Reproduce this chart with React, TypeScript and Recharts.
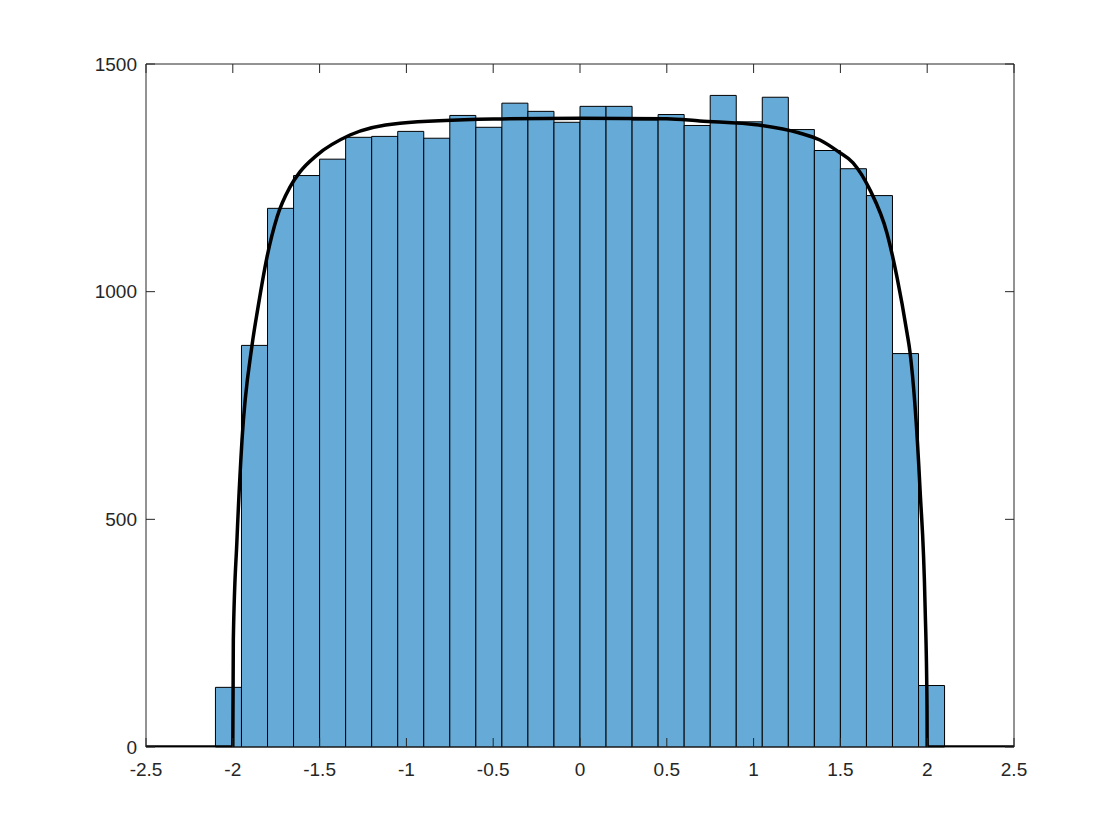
import { ComposedChart, Line, XAxis, YAxis, ReferenceArea } from 'recharts';

// histogram bins (edges) and counts
const binEdges = [
  -2.1, -1.95, -1.8, -1.65, -1.5, -1.35, -1.2, -1.05, -0.9, -0.75, -0.6, -0.45, -0.3, -0.15, 0,
  0.15, 0.3, 0.45, 0.6, 0.75, 0.9, 1.05, 1.2, 1.35, 1.5, 1.65, 1.8, 1.95, 2.1,
];
const binCounts = [
  131, 882, 1183, 1255, 1291, 1339, 1341, 1352, 1337, 1387, 1361, 1414, 1396, 1372,
  1407, 1407, 1377, 1389, 1365, 1431, 1373, 1427, 1356, 1310, 1270, 1211, 864, 135,
];

// fitted density curve
const curveX = [
  -2.5, -2.0, -1.997, -1.976, -1.947, -1.89, -1.855, -1.803, -1.745, -1.67, -1.613, -1.515,
  -1.325, -1.037, -0.5, 0, 0.5, 0.69, 1.03, 1.26, 1.382, 1.49, 1.573, 1.671, 1.768, 1.826,
  1.884, 1.9, 1.959, 1.988, 1.999, 2.0, 2.5,
];
const curveY = [
  0, 0, 235, 455, 674, 880, 965, 1076, 1164, 1230, 1263, 1300, 1344, 1370, 1379, 1381, 1380,
  1375, 1366, 1349, 1333, 1307, 1283, 1223, 1129, 1032, 909, 870, 564, 307, 88, 0, 0,
];

const xTicks = [-2.5, -2, -1.5, -1, -0.5, 0, 0.5, 1, 1.5, 2, 2.5];
const yTicks = [0, 500, 1000, 1500];

const curve = curveX.map((x, i) => ({ x, y: curveY[i] }));
const bins = binCounts.map((count, i) => ({ lo: binEdges[i], hi: binEdges[i + 1], count }));

const W = 1120;
const H = 840;
const PLOT_TOP = 64;
const PLOT_RIGHT = 1014;
const INK = '#262626';
const FONT = '"Liberation Sans", Arial, Helvetica, sans-serif';

function XTick({ x, y, payload }: any) {
  return (
    <g>
      <line x1={x} x2={x} y1={y} y2={y - 9} stroke={INK} strokeWidth={1} />
      <line x1={x} x2={x} y1={PLOT_TOP} y2={PLOT_TOP + 9} stroke={INK} strokeWidth={1} />
      <text x={x} y={y + 29} textAnchor="middle" fill={INK} fontSize={19} fontFamily={FONT}>
        {String(payload.value)}
      </text>
    </g>
  );
}

function YTick({ x, y, payload }: any) {
  return (
    <g>
      <line x1={x} x2={x + 9} y1={y} y2={y} stroke={INK} strokeWidth={1} />
      <line x1={PLOT_RIGHT} x2={PLOT_RIGHT - 9} y1={y} y2={y} stroke={INK} strokeWidth={1} />
      <text x={x - 9} y={y} dy="0.35em" textAnchor="end" fill={INK} fontSize={19} fontFamily={FONT}>
        {String(payload.value)}
      </text>
    </g>
  );
}

export default function App() {
  return (
    <div style={{ position: 'absolute', left: 0, top: 0, width: W, height: H, background: '#fff' }}>
      <ComposedChart width={W} height={H} margin={{ top: PLOT_TOP, right: W - PLOT_RIGHT, bottom: 63, left: 0 }}>
        <XAxis
          dataKey="x"
          type="number"
          domain={[-2.5, 2.5]}
          ticks={xTicks}
          allowDataOverflow
          axisLine={false}
          tickLine={false}
          tickSize={0}
          tickMargin={0}
          height={30}
          tick={<XTick />}
        />
        <YAxis
          type="number"
          domain={[0, 1500]}
          ticks={yTicks}
          allowDataOverflow
          axisLine={false}
          tickLine={false}
          tickSize={0}
          tickMargin={0}
          width={146}
          tick={<YTick />}
        />
        {bins.map(b => (
          <ReferenceArea
            key={b.lo}
            x1={b.lo}
            x2={b.hi}
            y1={0}
            y2={b.count}
            fill="#66aad7"
            fillOpacity={1}
            stroke="#000"
            strokeWidth={1}
          />
        ))}
        <ReferenceArea
          x1={-2.5}
          x2={2.5}
          y1={0}
          y2={1500}
          fill="none"
          fillOpacity={0}
          stroke={INK}
          strokeWidth={1}
        />
        <Line
          data={curve}
          dataKey="y"
          type="monotone"
          stroke="#000"
          strokeWidth={3.5}
          dot={false}
          activeDot={false}
          isAnimationActive={false}
        />
      </ComposedChart>
    </div>
  );
}
